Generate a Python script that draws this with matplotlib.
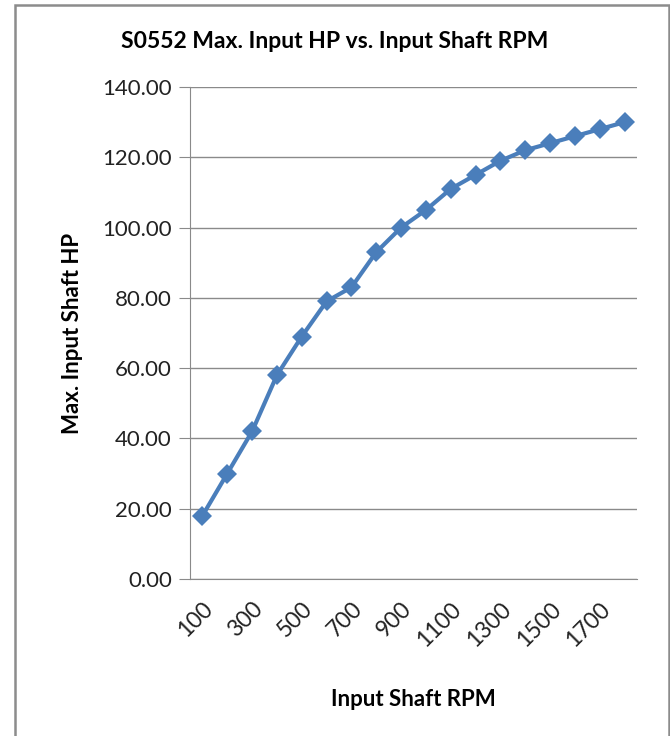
import matplotlib
matplotlib.use('Agg')

import matplotlib.pyplot as plt
from matplotlib.patches import Rectangle

# data
rpm = [100, 200, 300, 400, 500, 600, 700, 800, 900, 1000,
       1100, 1200, 1300, 1400, 1500, 1600, 1700, 1800]
max_hp = [18, 30, 42, 58, 69, 79, 83, 93, 100, 105,
          111, 115, 119, 122, 124, 126, 128, 130]
y_ticks = [0, 20, 40, 60, 80, 100, 120, 140]

plt.rcParams['font.family'] = ['Lato', 'DejaVu Sans']

fig = plt.figure(figsize=(6.7, 7.36), dpi=100)
ax = fig.add_axes([0.2836, 0.2133, 0.6671, 0.6685])

pos = list(range(len(rpm)))
ax.plot(pos, max_hp, color='#4a7ebb', linewidth=3, marker='D',
        markersize=10.5, markeredgewidth=0)

ax.set_xlim(-0.5, len(rpm) - 0.5)
ax.set_ylim(0, 140)
ax.set_yticks(y_ticks)
ax.set_yticklabels(['%.2f' % v for v in y_ticks], fontsize=16, color='#222222')
ax.set_xticks(pos[::2])
ax.set_xticklabels([str(r) for r in rpm[::2]], rotation=45, ha='right',
                   rotation_mode='anchor', fontsize=16.5, color='#222222')

ax.grid(axis='y', color='#8a8a8a', linewidth=1)
ax.set_axisbelow(True)
for s in ['top', 'right']:
    ax.spines[s].set_visible(False)
for s in ['left', 'bottom']:
    ax.spines[s].set_color('#8a8a8a')
ax.tick_params(axis='y', length=8, color='#8a8a8a', pad=5)
ax.tick_params(axis='x', length=0, pad=14)

ax.set_ylabel('Max. Input Shaft HP', fontsize=16, fontweight='bold', labelpad=14)
ax.set_xlabel('Input Shaft RPM', fontsize=16, fontweight='bold', labelpad=28)
fig.text(0.5, 0.943, 'S0552 Max. Input HP vs. Input Shaft RPM',
         ha='center', va='center', fontsize=16.5, fontweight='bold')

# outer chart border
fig.patches.append(Rectangle((15 / 670, -0.02), 654 / 670, 1.02 - 5 / 736,
                             transform=fig.transFigure, fill=False,
                             edgecolor='#8c8c8c', linewidth=1.8))

fig.savefig('out.png', dpi=100)
